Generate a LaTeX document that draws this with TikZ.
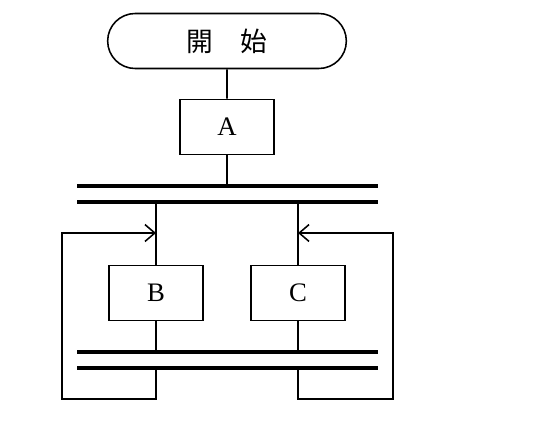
\documentclass[tikz,border=0pt]{standalone}
\usepackage{fontspec}
\setmainfont{Liberation Serif}
\newfontfamily\jpfont{Noto Sans CJK JP}
\usetikzlibrary{shapes.misc,arrows.meta}

\begin{document}
\begin{tikzpicture}[x=0.025cm,y=-0.025cm]
\tikzset{boite/.style={draw, line width=1.1pt, minimum width=2.35cm, minimum height=1.375cm, font=\fontsize{19}{21}\selectfont}}
\tikzset{barre/.style={line width=2.4pt}}
\tikzset{fil/.style={line width=1.1pt}}
\tikzset{fleche/.style={fil, -{Straight Barb[length=7pt,width=12pt,line width=1.1pt]}}}
\useasboundingbox (0,0) rectangle (540,440);
\node[boite, rounded rectangle, minimum width=6.2cm] (debut) at (227,41) {\jpfont 開\hspace{1em}始};
\node[boite] (A) at (227,127) {A};
\node[boite] (B) at (156,293) {B};
\node[boite] (C) at (298,293) {C};
\coordinate (h1g) at (77,186); \coordinate (h1d) at (378,186);
\coordinate (h2g) at (77,202); \coordinate (h2d) at (378,202);
\coordinate (b1g) at (77,352); \coordinate (b1d) at (378,352);
\coordinate (b2g) at (77,368); \coordinate (b2d) at (378,368);
\coordinate (retBb) at (62,399); \coordinate (retBh) at (62,233);
\coordinate (retCb) at (393,399); \coordinate (retCh) at (393,233);
\draw[barre] (h1g) -- (h1d);
\draw[barre] (h2g) -- (h2d);
\draw[barre] (b1g) -- (b1d);
\draw[barre] (b2g) -- (b2d);
\draw[fil] (debut) -- (A);
\draw[fil] (A) -- (A |- h1g);
\draw[fil] (B |- h2g) -- (B);
\draw[fil] (C |- h2g) -- (C);
\draw[fil] (B) -- (B |- b1g);
\draw[fil] (C) -- (C |- b1g);
\draw[fleche] (B |- b2g) -- (B |- retBb) -- (retBb) -- (retBh) -- (B |- retBh);
\draw[fleche] (C |- b2g) -- (C |- retCb) -- (retCb) -- (retCh) -- (C |- retCh);
\end{tikzpicture}
\end{document}
